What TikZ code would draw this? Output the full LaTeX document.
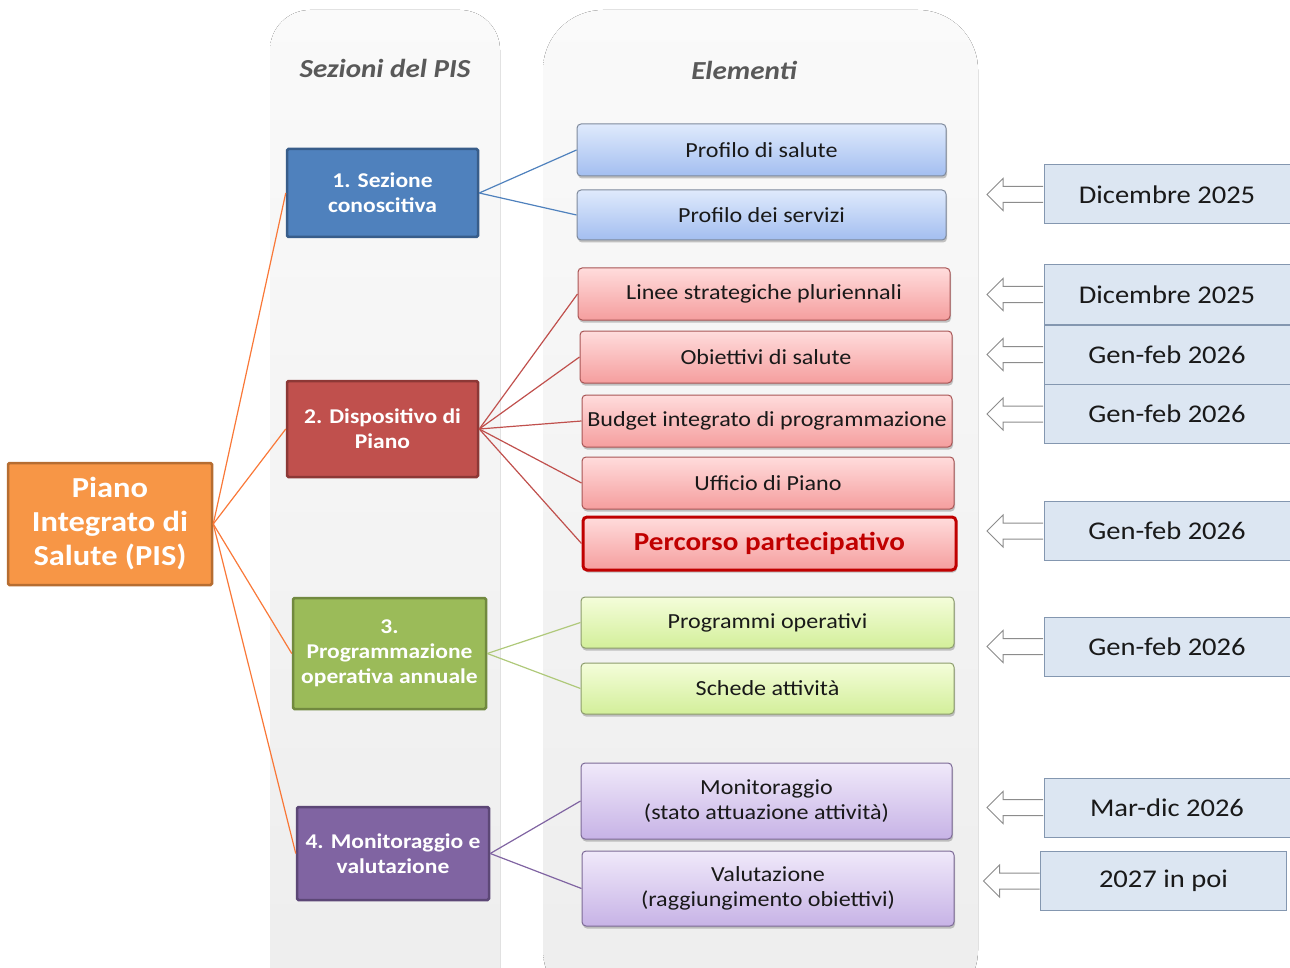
\documentclass[tikz,border=0pt]{standalone}
\usepackage{fontspec}
\setmainfont[FakeStretch=1.12]{Carlito}
\usetikzlibrary{shadows}
\definecolor{pisfill}{HTML}{F79646}
\definecolor{pisdraw}{HTML}{B66D31}
\definecolor{bluefill}{HTML}{4F81BD}
\definecolor{bluedraw}{HTML}{385D8A}
\definecolor{redfill}{HTML}{C0504D}
\definecolor{reddraw}{HTML}{8C3836}
\definecolor{greenfill}{HTML}{9BBB59}
\definecolor{greendraw}{HTML}{71893F}
\definecolor{purplefill}{HTML}{8064A2}
\definecolor{purpledraw}{HTML}{5C4776}
\definecolor{headgray}{HTML}{595959}
\definecolor{datefill}{HTML}{DCE6F2}
\definecolor{datedraw}{HTML}{8497B0}
\definecolor{darkred}{HTML}{C00000}
\definecolor{bluetop}{HTML}{DFEAFC}
\definecolor{bluebot}{HTML}{A3BEF0}
\definecolor{bluebd}{HTML}{7F8A9C}
\definecolor{redtop}{HTML}{FFDCDC}
\definecolor{redbot}{HTML}{F59E9E}
\definecolor{redbd}{HTML}{A85555}
\definecolor{greentop}{HTML}{F4FDDA}
\definecolor{greenbot}{HTML}{D3EF9A}
\definecolor{greenbd}{HTML}{8C9C6C}
\definecolor{purpletop}{HTML}{F0E9FA}
\definecolor{purplebot}{HTML}{C7B3E6}
\definecolor{purplebd}{HTML}{7C6A96}
\begin{document}
\begin{tikzpicture}[x=1pt,y=-1pt,
  head/.style={font=\fontsize{26}{30}\selectfont\bfseries\itshape, text=headgray},
  secbox/.style={line width=2.5pt, rounded corners=1.5pt, text=white, align=center,
    font=\fontsize{21}{25}\selectfont\bfseries, inner sep=2pt},
  elbox/.style={line width=1pt, rounded corners=4pt, align=center, text=black!90,
    font=\fontsize{21.5}{25}\selectfont,
    drop shadow={shadow xshift=1pt, shadow yshift=-2.5pt, opacity=.45}},
  blueel/.style={elbox, draw=bluebd, top color=bluetop, bottom color=bluebot},
  redel/.style={elbox, draw=redbd, top color=redtop, bottom color=redbot},
  greenel/.style={elbox, draw=greenbd, top color=greentop, bottom color=greenbot},
  purpleel/.style={elbox, draw=purplebd, top color=purpletop, bottom color=purplebot},
  datebox/.style={draw=datedraw, fill=datefill, line width=1pt, minimum width=246pt,
    minimum height=59pt, font=\fontsize{25.5}{30}\selectfont, text=black!90},
  datearrow/.style={draw=black!45, fill=white, line width=1pt, line join=miter},
  pisline/.style={draw=pisfill!80!red, line width=1.2pt},
]
\useasboundingbox (0,0) rectangle (1290,968);
\begin{scope}
\clip (0,0) rectangle (1290,968);
\fill[rounded corners=40pt, top color=black!2, bottom color=black!7] (270,10) rectangle (500,1010);
\fill[rounded corners=60pt, top color=black!2, bottom color=black!7] (543,10) rectangle (978,1010);
\end{scope}
\node[head] (hsez) at (385,68) {Sezioni del PIS};
\node[head] (hel) at (744,70) {Elementi};

\node[secbox, draw=pisdraw, fill=pisfill, minimum width=204pt, minimum height=122pt,
  font=\fontsize{29}{34}\selectfont\bfseries] (pis) at (110,524) {Piano\\Integrato di\\Salute (PIS)};
\node[secbox, draw=bluedraw, fill=bluefill, minimum width=191pt, minimum height=88pt] (sec1) at (382.5,193) {1. Sezione\\conoscitiva};
\node[secbox, draw=reddraw, fill=redfill, minimum width=191pt, minimum height=96pt] (sec2) at (382.5,429) {2. Dispositivo di\\Piano};
\node[secbox, draw=greendraw, fill=greenfill, minimum width=193pt, minimum height=111pt] (sec3) at (389.5,653.5) {3.\\Programmazione\\operativa annuale};
\node[secbox, draw=purpledraw, fill=purplefill, minimum width=192pt, minimum height=93pt] (sec4) at (393,853.5) {4. Monitoraggio e\\valutazione};

\node[blueel, minimum width=369pt, minimum height=52pt] (el1) at (761.5,150) {Profilo di salute};
\node[blueel, minimum width=369pt, minimum height=50pt] (el2) at (761.5,215) {Profilo dei servizi};
\node[redel, minimum width=372pt, minimum height=52pt] (el3) at (764,294) {Linee strategiche pluriennali};
\node[redel, minimum width=372pt, minimum height=52pt] (el4) at (766,357) {Obiettivi di salute};
\node[redel, minimum width=370pt, minimum height=52pt] (el5) at (767,421) {Budget integrato di programmazione};
\node[redel, minimum width=372pt, minimum height=52pt] (el6) at (768,483) {Ufficio di Piano};
\node[redel, draw=darkred, line width=3pt, text=darkred, minimum width=373pt, minimum height=53pt,
  font=\fontsize{26}{30}\selectfont\bfseries] (el7) at (769.5,543.5) {Percorso partecipativo};
\node[greenel, minimum width=373pt, minimum height=51pt] (el8) at (767.5,622.5) {Programmi operativi};
\node[greenel, minimum width=373pt, minimum height=51pt] (el9) at (767.5,688.5) {Schede attività};
\node[purpleel, minimum width=371pt, minimum height=76pt] (el10) at (766.5,801) {Monitoraggio\\(stato attuazione attività)};
\node[purpleel, minimum width=372pt, minimum height=75pt] (el11) at (768,888.5) {Valutazione\\(raggiungimento obiettivi)};

\node[datebox] (dt1) at (1167,194.5) {Dicembre 2025};
\node[datebox] (dt2) at (1167,294.5) {Dicembre 2025};
\node[datebox] (dt3) at (1167,354.5) {Gen-feb 2026};
\node[datebox] (dt4) at (1167,414) {Gen-feb 2026};
\node[datebox] (dt5) at (1167,531) {Gen-feb 2026};
\node[datebox] (dt6) at (1167,646.5) {Gen-feb 2026};
\node[datebox] (dt7) at (1167,807.5) {Mar-dic 2026};
\node[datebox] (dt8) at (1163.5,881) {2027 in poi};
\foreach \d in {dt1,dt2,dt3,dt4,dt5,dt6,dt7,dt8}
  \draw[datearrow] (\d.west) ++(-0.5,-8) -- ++(-40,0) -- ++(0,-8) -- ++(-16,16)
    -- ++(16,16) -- ++(0,-8) -- ++(40,0);

\foreach \s in {sec1,sec2,sec3,sec4}
  \draw[pisline] (pis.east) -- (\s.west);
\foreach \e in {el1,el2}
  \draw[bluefill, line width=1.2pt] (sec1.east) -- (\e.west);
\foreach \e in {el3,el4,el5,el6,el7}
  \draw[redfill, line width=1.2pt] (sec2.east) -- (\e.west);
\foreach \e in {el8,el9}
  \draw[greenfill!80!white, line width=1.2pt] (sec3.east) -- (\e.west);
\foreach \e in {el10,el11}
  \draw[purplefill, line width=1.2pt] (sec4.east) -- (\e.west);
\end{tikzpicture}
\end{document}
